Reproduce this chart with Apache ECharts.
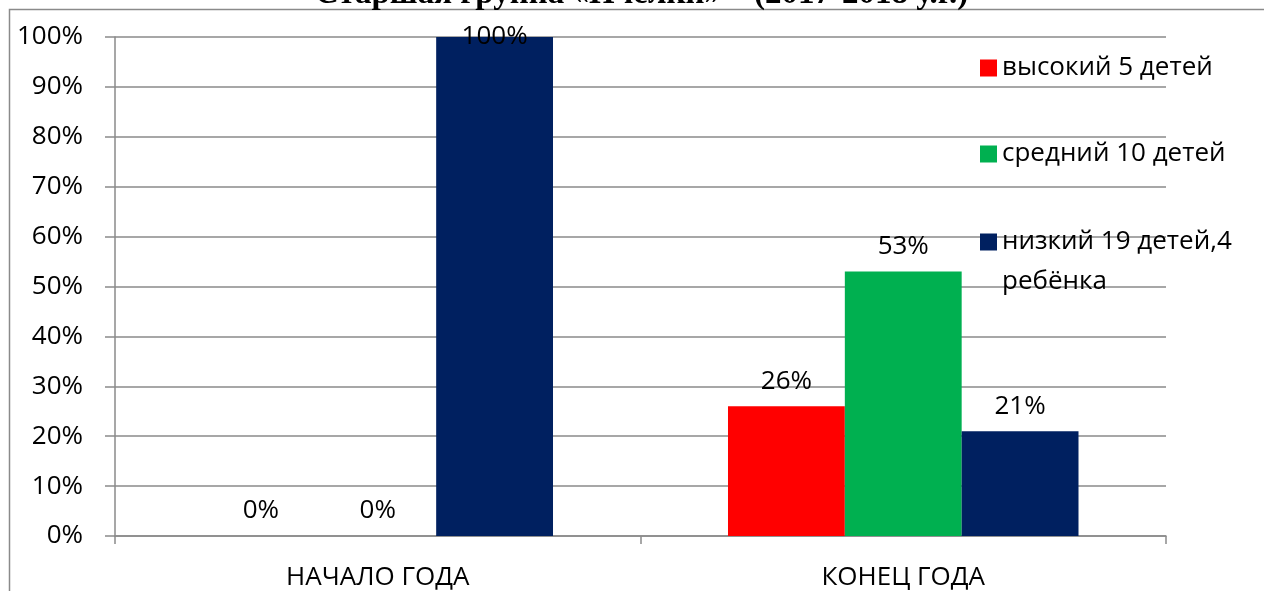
<!DOCTYPE html>
<html style="height: 100%">
<head>
	<meta charset="utf-8">
	<title>Старшая группа</title>
	<script src="https://cdn.jsdelivr.net/npm/echarts@6/dist/echarts.min.js"></script>
</head>
<body style="height: 100%; margin: 0; background: #fff">
	<div id="main" style="width: 1264px; height: 591px"></div>
	<script type="text/javascript">

		var titleText = 'Старшая группа «Пчелки» – (2017-2018 у.г.)';
		var categories = ['НАЧАЛО ГОДА', 'КОНЕЦ ГОДА'];
		var seriesNames = ['высокий 5 детей', 'средний 10 детей', 'низкий 19 детей,4\nребёнка'];
		var highValues = [0, 26];
		var midValues = [0, 53];
		var lowValues = [100, 21];
		var colors = ['#FF0000', '#00B050', '#002060'];

		var font = 'Open Sans';
		var fontSize = 26;
		var dom = document.getElementById('main');
		var myChart = echarts.init(dom);

		var barLabel = {
			show: true,
			position: 'top',
			distance: 12,
			color: '#000',
			fontFamily: font,
			fontSize: fontSize,
			formatter: '{c}%'
		};

		var makeSeries = function(i, values){
			return {
				name: seriesNames[i],
				type: 'bar',
				barGap: 0,
				barCategoryGap: '33.3%',
				itemStyle: { color: colors[i] },
				label: barLabel,
				data: values.map(function(v){
					// the 100% label sits on the bar top in the original
					if (v === 100) return { value: v, label: { offset: [0, 25] } };
					return v;
				})
			};
		};

		// one legend per item so each can sit where the original has it
		var legendTop = [43, 129, 177];
		var legends = seriesNames.map(function(n, i){
			return {
				orient: 'vertical',
				left: 975,
				top: legendTop[i],
				itemWidth: 17,
				itemHeight: 17,
				icon: 'rect',
				selectedMode: false,
				// blank first line keeps the icon level with the first text line
				formatter: i === 2 ? function(name){ return '\n' + name; } : '{name}',
				textStyle: { color: '#000', fontFamily: font, fontSize: fontSize, lineHeight: 40 },
				data: [n]
			};
		});

		var option = {
			animation: false,
			color: colors,
			title: {
				text: titleText,
				left: 310,
				top: -27,
				textStyle: {
					fontFamily: 'Liberation Serif',
					fontWeight: 'bold',
					fontSize: 33,
					color: '#000'
				}
			},
			graphic: [{
				type: 'rect',
				z: -1,
				shape: { x: 9.5, y: 9.5, width: 1300, height: 700 },
				style: { fill: 'none', stroke: '#8a8a8a', lineWidth: 1.5 }
			}],
			legend: legends,
			grid: { left: 115, right: 98, top: 37, bottom: 54 },
			xAxis: {
				type: 'category',
				data: categories,
				axisLine: { lineStyle: { color: '#8a8a8a', width: 1.5 } },
				axisTick: { show: true, length: 8, lineStyle: { color: '#8a8a8a', width: 1.5 } },
				axisLabel: { color: '#000', fontFamily: font, fontSize: fontSize, margin: 29 }
			},
			yAxis: {
				type: 'value',
				min: 0,
				max: 100,
				interval: 10,
				axisLine: { show: true, lineStyle: { color: '#8a8a8a', width: 1.5 } },
				axisTick: { show: true, length: 10, lineStyle: { color: '#8a8a8a', width: 1.5 } },
				splitLine: { lineStyle: { color: '#8a8a8a', width: 1.5 } },
				axisLabel: { color: '#000', fontFamily: font, fontSize: fontSize, margin: 32, formatter: '{value}%' }
			},
			series: [
				makeSeries(0, highValues),
				makeSeries(1, midValues),
				makeSeries(2, lowValues)
			]
		};

		myChart.setOption(option);
	</script>
</body>
</html>
